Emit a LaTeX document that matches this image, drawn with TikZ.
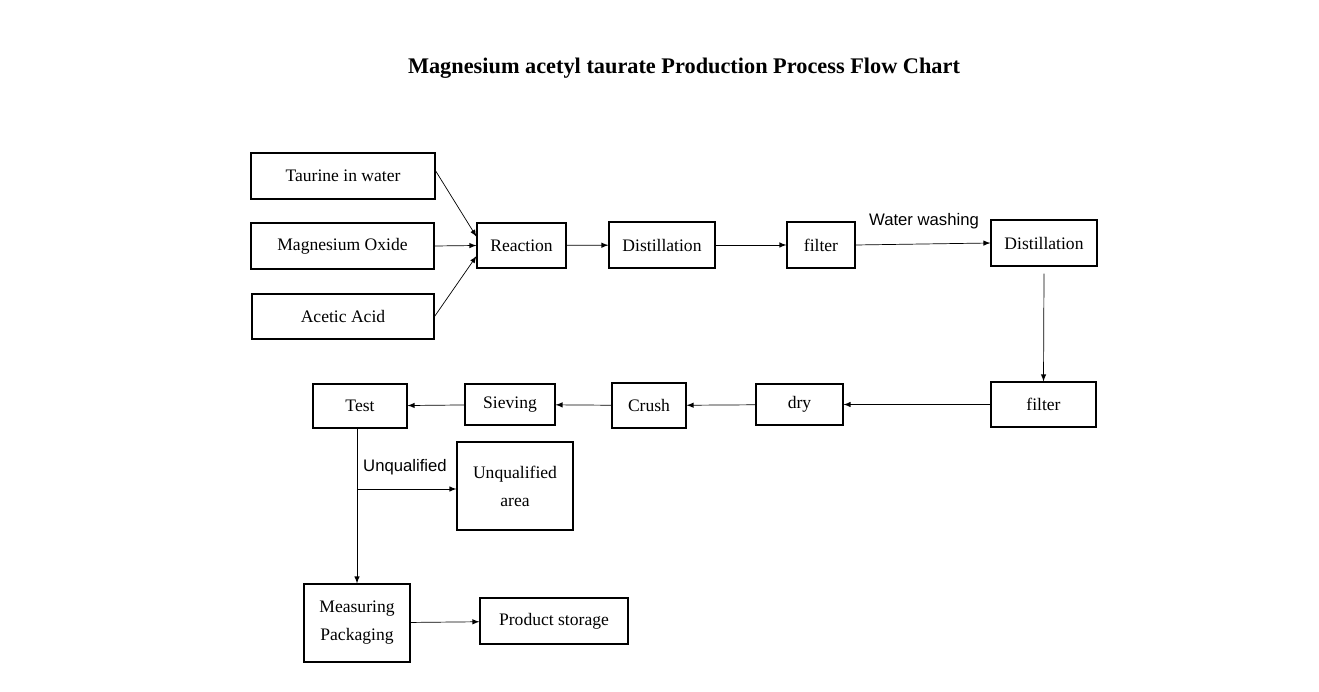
\documentclass[tikz,border=0pt]{standalone}
\usepackage{fontspec}
\setmainfont{Liberation Serif}
\newfontfamily\labelfont{Liberation Sans}
\begin{document}
\begin{tikzpicture}[x=0.02cm,y=-0.02cm,
    box/.style={draw,semithick,rectangle,inner sep=0pt,font=\fontsize{10}{16}\selectfont,align=center},
    lab/.style={font=\labelfont\fontsize{9.5}{11}\selectfont},
    >=latex]
\useasboundingbox (0,0) rectangle (1319,692);
\node[font=\bfseries\fontsize{12.7}{14}\selectfont] (title) at (684,68) {Magnesium acetyl taurate Production Process Flow Chart};
\node[box,minimum width=184*0.02cm,minimum height=46*0.02cm] (tau) at (343,176) {Taurine in water};
\node[box,minimum width=183*0.02cm,minimum height=46*0.02cm] (mgo) at (342.5,246) {Magnesium Oxide};
\node[box,minimum width=182*0.02cm,minimum height=45*0.02cm] (ace) at (343,316.5) {Acetic Acid};
\node[box,minimum width=89*0.02cm,minimum height=45*0.02cm] (rea) at (521.5,245.5) {Reaction};
\node[box,minimum width=106*0.02cm,minimum height=46*0.02cm] (dis1) at (662,245) {Distillation};
\node[box,minimum width=68*0.02cm,minimum height=46*0.02cm] (fil1) at (821,245) {filter};
\node[box,minimum width=106*0.02cm,minimum height=46*0.02cm] (dis2) at (1044,243) {Distillation};
\node[box,minimum width=105*0.02cm,minimum height=45*0.02cm] (fil2) at (1043.5,404.5) {filter};
\node[box,minimum width=87*0.02cm,minimum height=41*0.02cm] (dry) at (799.5,404.5) {dry};
\node[box,minimum width=74*0.02cm,minimum height=45*0.02cm] (cru) at (649,405.5) {Crush};
\node[box,minimum width=90*0.02cm,minimum height=41*0.02cm] (sie) at (510,404.5) {Sieving};
\node[box,minimum width=94*0.02cm,minimum height=44*0.02cm] (test) at (360,406) {Test};
\node[box,minimum width=116*0.02cm,minimum height=88*0.02cm] (unq) at (515,486) {Unqualified\\area};
\node[box,minimum width=106*0.02cm,minimum height=78*0.02cm] (mea) at (357,623) {Measuring\\Packaging};
\node[box,minimum width=148*0.02cm,minimum height=46*0.02cm] (sto) at (554,621) {Product storage};
\node[lab] (ww) at (924,221) {Water washing};
\node[lab] (uql) at (405,467) {Unqualified};
\coordinate (br) at (357,489);
% arrows
\draw[->] ([yshift=3]tau.east) -- ([yshift=5]rea.west);
\draw[->] (mgo.east) -- (rea.west);
\draw[->] ([yshift=0]ace.east) -- ([yshift=-6]rea.west);
\draw[->] (rea) -- (dis1);
\draw[->] (dis1) -- (fil1);
\draw[->] (fil1.east) -- (dis2.west);
\draw[->] ([yshift=-4]dis2.south) -- (fil2.north);
\draw[->] (fil2) -- (dry);
\draw[->] (dry) -- (cru);
\draw[->] (cru) -- (sie);
\draw[->] (sie) -- (test);
\draw (test.south -| br) -- (br);
\draw[->] (br) -- (br -| unq.west);
\draw[->] (br) -- (mea.north);
\draw[->] (mea) -- (sto);
\end{tikzpicture}
\end{document}
